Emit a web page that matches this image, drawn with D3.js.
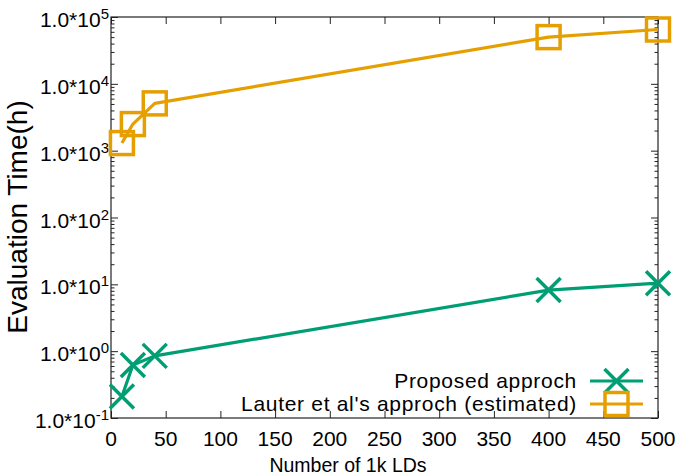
<!DOCTYPE html>
<html>
<head>
<meta charset="utf-8">
<script src="https://cdn.jsdelivr.net/npm/d3@7"></script>
<style>
  html, body { margin: 0; padding: 0; background: #fff; }
  svg { display: block; }
  text { font-family: "Liberation Sans", Arial, Helvetica, sans-serif; fill: #000; }
</style>
</head>
<body>
<svg id="chart" width="685" height="476"></svg>
<script>
// ---- data ----
const xValues = [10, 20, 40, 400, 500];
const proposedValues = [0.21, 0.62, 0.85, 8.2, 10.4];
const lauterValues = [1300, 2500, 5100, 50000, 65000];
const seriesNames = ["Proposed approch", "Lauter et al's approch (estimated)"];
const xTicks = [0, 50, 100, 150, 200, 250, 300, 350, 400, 450, 500];
const yExponents = [-1, 0, 1, 2, 3, 4, 5];
const xTitle = "Number of 1k LDs";
const yTitle = "Evaluation Time(h)";

const colors = { proposed: "#009e73", lauter: "#e69f00" };

const svg = d3.select("#chart");
const pL = 111, pR = 658, pT = 17, pB = 418;

const x = d3.scaleLinear().domain([0, 500]).range([pL, pR]);
const y = d3.scaleLog().domain([0.1, 1e5]).range([pB, pT]);

const majorY = yExponents.map(e => Math.pow(10, e));
const minorY = [];
yExponents.slice(0, -1).forEach(e => {
  for (let k = 2; k <= 9; k++) minorY.push(k * Math.pow(10, e));
});

const axisColor = "#222";
function styleAxis(g) {
  g.select(".domain").remove();
  g.selectAll("line").attr("stroke", axisColor).attr("stroke-width", 1);
  g.selectAll("text").remove();
}

// axes ticks (inward)
svg.append("g").attr("transform", `translate(${pL},0)`)
  .call(d3.axisLeft(y).tickValues(majorY).tickSize(-7).tickFormat("")).call(styleAxis);
svg.append("g").attr("transform", `translate(${pL},0)`)
  .call(d3.axisLeft(y).tickValues(minorY).tickSize(-3.5).tickFormat("")).call(styleAxis);
svg.append("g").attr("transform", `translate(${pR},0)`)
  .call(d3.axisRight(y).tickValues(majorY).tickSize(-7).tickFormat("")).call(styleAxis);
svg.append("g").attr("transform", `translate(${pR},0)`)
  .call(d3.axisRight(y).tickValues(minorY).tickSize(-3.5).tickFormat("")).call(styleAxis);
svg.append("g").attr("transform", `translate(0,${pB})`)
  .call(d3.axisBottom(x).tickValues(xTicks).tickSize(-7).tickFormat("")).call(styleAxis);
svg.append("g").attr("transform", `translate(0,${pT})`)
  .call(d3.axisTop(x).tickValues(xTicks).tickSize(-7).tickFormat("")).call(styleAxis);

// frame
svg.append("rect").attr("x", pL).attr("y", pT)
  .attr("width", pR - pL).attr("height", pB - pT)
  .attr("fill", "none").attr("stroke", axisColor).attr("stroke-width", 1.2);

// y tick labels
yExponents.forEach(e => {
  const t = svg.append("text")
    .attr("x", 109).attr("y", y(Math.pow(10, e)) + 10)
    .attr("text-anchor", "end").style("font-size", "21px");
  t.append("tspan").text("1.0*10");
  t.append("tspan").attr("dy", -8).style("font-size", "15px").text(String(e));
});

// x tick labels
xTicks.forEach(v => {
  svg.append("text").attr("x", x(v)).attr("y", pB + 28)
    .attr("text-anchor", "middle").style("font-size", "21px").text(v);
});

// axis titles
svg.append("text").attr("x", 348).attr("y", 472)
  .attr("text-anchor", "middle").style("font-size", "19.5px").text(xTitle);
svg.append("text")
  .attr("transform", `translate(27,217) rotate(-90)`)
  .attr("text-anchor", "middle").style("font-size", "28px").text(yTitle);

// lines
const line = d3.line().x(d => x(d[0])).y(d => y(d[1])).curve(d3.curveLinear);
const lauterData = xValues.map((v, i) => [v, lauterValues[i]]);
const propData = xValues.map((v, i) => [v, proposedValues[i]]);

svg.append("path").datum(lauterData).attr("d", line)
  .attr("fill", "none").attr("stroke", colors.lauter).attr("stroke-width", 3.2)
  .attr("stroke-linejoin", "round");
svg.append("path").datum(propData).attr("d", line)
  .attr("fill", "none").attr("stroke", colors.proposed).attr("stroke-width", 3.2)
  .attr("stroke-linejoin", "round");

// markers
const sq = 23, cr = 12;
function drawSquare(g, cx, cy) {
  g.append("rect").attr("x", cx - sq / 2).attr("y", cy - sq / 2)
    .attr("width", sq).attr("height", sq)
    .attr("fill", "none").attr("stroke", colors.lauter).attr("stroke-width", 3.5);
}
function drawCross(g, cx, cy) {
  g.append("path").attr("d", `M${cx - cr},${cy - cr}L${cx + cr},${cy + cr}M${cx - cr},${cy + cr}L${cx + cr},${cy - cr}`)
    .attr("fill", "none").attr("stroke", colors.proposed).attr("stroke-width", 3.5);
}
const mk = svg.append("g");
lauterData.forEach(d => drawSquare(mk, x(d[0]), y(d[1])));
propData.forEach(d => drawCross(mk, x(d[0]), y(d[1])));

// legend
const legX = 577, lineX0 = 590, lineX1 = 643;
const legRows = [
  { name: seriesNames[0], color: colors.proposed, y: 381, mark: drawCross },
  { name: seriesNames[1], color: colors.lauter, y: 404, mark: drawSquare }
];
legRows.forEach(r => {
  svg.append("text").attr("x", legX).attr("y", r.y + 7)
    .attr("text-anchor", "end").style("font-size", "21px")
    .style("letter-spacing", "0.7px").text(r.name);
  svg.append("line").attr("x1", lineX0).attr("x2", lineX1).attr("y1", r.y).attr("y2", r.y)
    .attr("stroke", r.color).attr("stroke-width", 3.2);
  r.mark(svg, (lineX0 + lineX1) / 2, r.y);
});
</script>
</body>
</html>
